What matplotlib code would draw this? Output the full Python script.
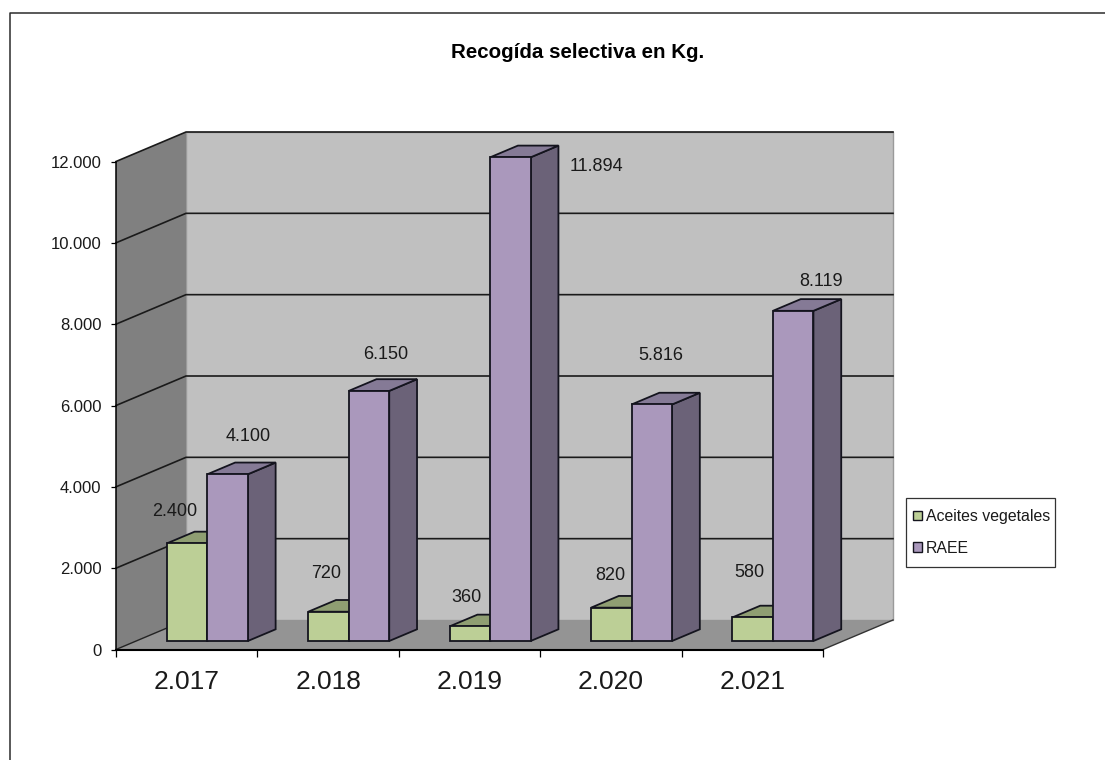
from matplotlib import pyplot as plt
from matplotlib.lines import Line2D
from matplotlib.patches import Patch, Polygon, Rectangle
from matplotlib.ticker import FuncFormatter

plt.rcParams["font.family"] = ["Liberation Sans", "DejaVu Sans"]

years = ["2.017", "2.018", "2.019", "2.020", "2.021"]
aceites = [2400, 720, 360, 820, 580]
raee = [4100, 6150, 11894, 5816, 8119]
y_ticks = [0, 2000, 4000, 6000, 8000, 10000, 12000]

# label offsets from the top centre of each bar, in pixels
aceites_off = [(-12, 32), (-2, 38), (-3, 29), (-1, 32), (-3, 45)]
raee_off = [(21, 38), (17, 36), (86, -9), (9, 49), (28, 29)]

W, H = 1105, 760
X0, X1, Y0, Y1 = 116, 823, 649.5, 161.5  # front plane of the chart, in pixels

# full depth of the box, in data units
DX = 70 / ((X1 - X0) / 5)
DY = 29.5 / ((Y0 - Y1) / 12000)

BAR_W = 0.2864
BAR_START = 0.217
D_FRONT, D_BACK = 0.288, 0.685

WALL = "#c0c0c0"
SIDE = "#808080"
FLOOR = "#949494"
EDGE = "#14141e"
TEXT = "#1a1a1a"
GREEN = ("#bccf96", "#8f9e72")
PURPLE = ("#aa98bc", "#857a96", "#6b6278")


def pt(x, y, d=0.0):
    return (x + d * DX, y + d * DY)


def fmt(v):
    return f"{v:,.0f}".replace(",", ".")


fig = plt.figure(figsize=(W / 100, H / 100), dpi=100, facecolor="white")
ax = fig.add_axes([X0 / W, 1 - Y0 / H, (X1 - X0) / W, (Y0 - Y1) / H])
ax.set_xlim(0, 5)
ax.set_ylim(0, 12000)
ax.patch.set_visible(False)


def poly(points, color, edge="none", lw=1.0, z=1):
    ax.add_patch(Polygon(points, closed=True, facecolor=color, edgecolor=edge,
                         linewidth=lw, zorder=z, clip_on=False, joinstyle="miter"))


# walls and floor
poly([pt(0, 0, 1), pt(5, 0, 1), pt(5, 12000, 1), pt(0, 12000, 1)], WALL, "#9a9a9a", 1.0)
poly([pt(0, 0), pt(0, 0, 1), pt(0, 12000, 1), pt(0, 12000)], SIDE)
poly([pt(0, 0), pt(5, 0), pt(5, 0, 1), pt(0, 0, 1)], FLOOR, z=1.5)

# gridlines go along the side wall and then the back wall
for v in y_ticks[1:]:
    a, b, c = pt(0, v), pt(0, v, 1), pt(5, v, 1)
    ax.plot([a[0], b[0], c[0]], [a[1], b[1], c[1]], color="#1a1a1a", lw=1.2,
            zorder=2, clip_on=False, solid_joinstyle="miter")
a, b = pt(5, 0), pt(5, 0, 1)
ax.plot([a[0], b[0]], [a[1], b[1]], color="#333333", lw=1.0, zorder=2, clip_on=False)
a, b = pt(0, 0), pt(0, 0, 1)
ax.plot([a[0], b[0]], [a[1], b[1]], color="#222222", lw=1.0, zorder=2, clip_on=False)


def bar(x, v, colors, z):
    x2 = x + BAR_W
    # front face, then the top and the right side
    poly([pt(x2, 0, D_FRONT), pt(x2, 0, D_BACK), pt(x2, v, D_BACK), pt(x2, v, D_FRONT)],
         colors[-1], EDGE, 1.3, z)
    poly([pt(x, v, D_FRONT), pt(x2, v, D_FRONT), pt(x2, v, D_BACK), pt(x, v, D_BACK)],
         colors[1], EDGE, 1.3, z)
    poly([pt(x, 0, D_FRONT), pt(x2, 0, D_FRONT), pt(x2, v, D_FRONT), pt(x, v, D_FRONT)],
         colors[0], EDGE, 1.3, z)


for i in range(len(years)):
    xg = i + BAR_START
    xr = xg + BAR_W
    bar(xg, aceites[i], GREEN, 3 + i)
    bar(xr, raee[i], PURPLE, 3.5 + i)
    ax.annotate(fmt(aceites[i]), pt(xg + BAR_W / 2, aceites[i], D_FRONT), xytext=aceites_off[i],
                textcoords="offset pixels", ha="center", va="center", fontsize=13,
                color=TEXT, zorder=20, annotation_clip=False)
    ax.annotate(fmt(raee[i]), pt(xr + BAR_W / 2, raee[i], D_FRONT), xytext=raee_off[i],
                textcoords="offset pixels", ha="center", va="center", fontsize=13,
                color=TEXT, zorder=20, annotation_clip=False)

# axes
for s in ["top", "right"]:
    ax.spines[s].set_visible(False)
ax.spines["left"].set_linewidth(1.1)
ax.spines["bottom"].set_linewidth(1.5)
ax.spines["left"].set_zorder(2.5)
ax.spines["bottom"].set_zorder(2.5)
ax.set_yticks(y_ticks)
ax.yaxis.set_major_formatter(FuncFormatter(lambda v, p: fmt(v)))
ax.tick_params(axis="y", length=3.6, width=0.9, pad=7, labelsize=12, labelcolor=TEXT)
ax.set_xticks(range(6))
ax.set_xticklabels([])
ax.set_xticks([i + 0.5 for i in range(5)], minor=True)
ax.set_xticklabels(years, minor=True)
ax.tick_params(axis="x", which="major", length=5, width=0.9)
ax.tick_params(axis="x", which="minor", length=0, pad=14.5, labelsize=19, labelcolor=TEXT)

fig.text(578 / W, 1 - 53 / H, "Recogída selectiva en Kg.", fontsize=14.8, fontweight="bold",
         ha="center", va="center", color="black")

# legend box is drawn apart so its padding can stay tight around the keys
fig.add_artist(Rectangle((906 / W, 1 - 566.5 / H), 149 / W, 68.5 / H, transform=fig.transFigure,
                         facecolor="white", edgecolor="#333333", linewidth=0.9))
fig.legend(handles=[Patch(facecolor=GREEN[0], edgecolor=EDGE, linewidth=1.0, label="Aceites vegetales"),
                    Patch(facecolor=PURPLE[0], edgecolor=EDGE, linewidth=1.0, label="RAEE")],
           loc="upper left", bbox_to_anchor=(913 / W, 1 - 509 / H), borderaxespad=0, borderpad=0,
           fontsize=11.4, frameon=False, labelcolor=TEXT,
           handlelength=0.57, handleheight=0.57, handletextpad=0.25, labelspacing=1.05)

# outer frame of the chart area
fig.add_artist(Line2D([9.5 / W, 9.5 / W, 1], [0, 1 - 12.5 / H, 1 - 12.5 / H],
                      transform=fig.transFigure, color="#2b2b2b", lw=1.1))

fig.savefig("out.png", dpi=100, facecolor="white")
